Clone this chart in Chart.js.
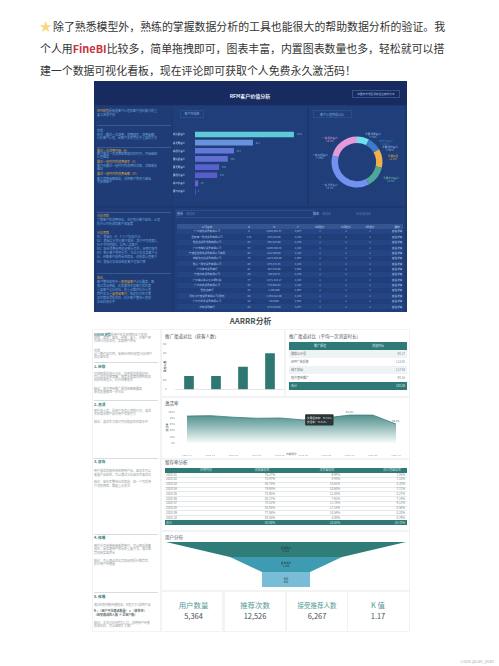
<!DOCTYPE html>
<html lang="zh"><head><meta charset="utf-8">
<script src="https://cdn.jsdelivr.net/npm/chart.js@4"></script>
<style>
html,body{margin:0;padding:0;background:#fff}
#root{position:relative;width:499px;height:666px;overflow:hidden;background:#fff;font-family:"Noto Sans CJK SC","Noto Sans",sans-serif;filter:blur(.5px)}
.b{position:absolute}
.t{position:absolute;white-space:nowrap;line-height:1}
canvas{position:absolute;display:block}
</style></head><body><div id="root"></div>
<script>
const introLine1='除了熟悉模型外，熟练的掌握数据分析的工具也能很大的帮助数据分析的验证。我';
const introLine3='建一个数据可视化看板，现在评论即可获取个人免费永久激活码！';
const rfmCats=['一般挽留客户','一般发展客户','一般保持客户','重要挽留客户','重要发展客户','重要保持客户','一般价值客户','重要价值客户'];
const rfmValues=[1047,612,410,345,253,232,30,1];
const rfmColors=['#5fcbd8','#6693dc','#6478da','#5f70d2','#5a60cc','#5a5cc8','#6a5fd8','#6a5fd8'];
const donutCats=['一般价值客户','重要保持客户','重要价值客户','重要挽留客户','重要发展客户','一般发展客户'];
const donutValues=[7.8,8.9,11.9,13.6,36.9,20.8];
const donutColors=['#6fe0ee','#3c7cc8','#f2b14a','#4fa79a','#7391ee','#e49ad8'];
const channelCats=['微信公众号','APP广告投放','线下活动','地方宣传推广'];
const channelUsers=[1430,1430,2430,3930];
const channelDuration=['98.17','113.85','117.42','98.55'];
const channelTotal='108.30';
const months=['2020-01','2020-02','2020-03','2020-04','2020-05','2020-06','2020-07','2020-08','2020-09','2020-10'];
const activation=[85.7,87,82,78.6,79.6,73.5,80,88.8,88.8,60.2];
const retention1=['76.27%','75.47%','80.75%','79.95%','78.95%','80.17%','78.51%','80.88%','77.86%','80.53%'];
const retention2=['9.94%','8.45%','10.61%','10.68%','12.88%','7.91%','11.73%','17.18%','13.54%','0.00%'];
const retention3=['7.85%','7.13%','8.20%','7.71%','8.27%','7.14%','9.11%','8.56%','8.28%','0.79%'];
const retentionTotal=['88.80%','10.31%','38.78%'];
const funnelWidths=[100,46.7,20];
const funnelLabels=[['活跃用户','3,521'],['留存用户','1,845'],['付费','602']];
const kpiLabels=['用户数量','推荐次数','接受推荐人数','K 值'];
const kpiValues=['5,364','12,526','6,267','1.17'];
const kpiLabelSizes=[7.4,7.4,6.5,7.4];
const rfmCompanies=['广州德鑫贸易有限公司','西安富一服装贸易有限公司','雅信达贸易发展有限公司','广州市陶尚贸易有限公司','宁波金信服装贸易有限公司有限','成都鑫迈达贸易有限公司','雅兴一服装贸易有限公司','广州隆丰贸易商行','宁波华泰贸易有限公司','广州隆兴永兴化工原料站','广州鸿宇贸易有限公司','雅信达商行','闽东江万安贸易有限公司(服装)','广州万顺发贸易有限公司','华泰贸易商行'];
const rfmR=['8','116','83','97','83','76','83','81','85','77','63','53','88','52','86'];
const rfmM=['4,046,991.67','433,318.00','991,257.00','3,806,398.33','814,500.00','1,815,599.00','876,272.33','487,333.00','542,857.0','1,571,319.17','773,664.33','1,298,000','1,569,418.00','833,000','873,510.00'];
const rfmF=['3,077','2,136','2,136','2,136','2,136','2,563','2,136','2,563','2,136','2,136','2,136','2,563','2,136','2,563','3,077'];
const rfmHead=['公司名称','R','M','F','R风险分','M风险分','F风险分','操作'];

const root=document.getElementById('root');
const CN='"Noto Sans CJK SC","Noto Sans",sans-serif';
function B(x,y,w,h,bg,extra){const d=document.createElement('div');d.className='b';d.style.cssText=`left:${x}px;top:${y}px;width:${w}px;height:${h}px;background:${bg};${extra||''}`;root.appendChild(d);return d;}
function T(x,y,s,size,color,o){o=o||{};const d=document.createElement('div');d.className='t';const tr=o.a==='c'?'-50%':o.a==='r'?'-100%':'0';d.style.cssText=`left:${x}px;top:${y}px;font-size:${size}px;color:${color};font-weight:${o.b?700:400};transform:translate(${tr},-50%);${o.e||''}`;if(o.html)d.innerHTML=s;else d.textContent=s;root.appendChild(d);return d;}
function C(x,y,w,h){const c=document.createElement('canvas');c.width=w;c.height=h;c.style.left=x+'px';c.style.top=y+'px';c.style.width=w+'px';c.style.height=h+'px';root.appendChild(c);return c;}
Chart.defaults.animation=false;Chart.defaults.responsive=false;Chart.defaults.font.family=CN;

// intro
T(39.5,26,'★',12.5,'#f4d97f');
T(53,26,introLine1,10.9,'#333');
T(40,48,'个人用<b style="color:#c9323c">FineBI</b>比较多，简单拖拽即可，图表丰富，内置图表数量也多，轻松就可以搭',10.9,'#333',{html:true});
T(40,70,introLine3,10.9,'#333');

// dark dashboard
B(94,81,313,231,'#1d376f');
B(94,81,313,24,'#172b60');
B(96,106,76,100,'#1f3c77');B(173,106,134,100,'#203f7a');B(309,106,96,100,'#203f7a');
B(96,208,76,104,'#1f3c77');B(174,208,231,104,'#203f7a');
T(250,95,'RFM客户价值分析',5,'#e8eef8',{a:'c',b:true});
B(352,90,48,8,'transparent','border:.5px solid #33528a;box-sizing:border-box');
T(376,94,'中国南方地区领航企业案例分享',2.7,'#a8c0e4',{a:'c'});
B(180,110,24,8,'transparent','border:.5px solid #2c4f88;box-sizing:border-box');
T(192,114,'客户构成数',3,'#78aad8',{a:'c'});
B(313,110,39,8,'transparent','border:.5px solid #2c4f88;box-sizing:border-box');
T(332,114.5,'客户价值构成占比',3,'#78aad8',{a:'c'});
const OR='#d8a848',LB='#6da3d8';
const darkLeft=[
[111,'<span style="color:#d8a848">RFM模型</span>是衡量客户价值和客户创利能力的重',LB],[115,'要工具和手段',LB],
[131,'背景',LB],[134.5,'RFM（最近一次消费、消费频率、消费金额）',LB],[138,'分析客户价值，是客户关系管理中重要的方法',LB],
[151,'最近一次消费间隔（R）',OR],[154,'客户最近一次消费距离现在的时间，间隔越短',LB],[157,'价值越高',LB],
[162,'最近一段时间内消费频率（F）',OR],[165.5,'客户在最近一段时间内消费的次数，次数越多',LB],[169,'越好',LB],
[174,'最近一段时间内消费金额（M）',OR],[178.5,'客户消费金额越高，说明客户购买力越强',LB],[182,'可挖掘客户',LB],
[216,'分析目的',OR],[220,'了解客户的消费特征，合理划分客户群体，从而',LB],[223.5,'提升公司利润和客户满意度',LB],
[233,'分析思路',OR],[237,'R1：根据R、M、F 三个指标打分，',LB],[241,'R2：根据得分划分客户群体，高于平均值赋1，',LB],[245,'低于平均值赋0，得到八类客户',LB],[249,'R3：结合消费周期设定统计范围，周期可按月',LB],[253,'R4：统计客户购买行为，对比分析各类客户占',LB],[257,'比，判断客户结构是否健康，识别高价值客户',LB],[262,'R5：根据分析结果制定客户运营方案',LB],
[278,'结论',OR],[282,'客户整体结构中<span style="color:#d8a848">一般挽留客户</span>占比最高，需',LB],[286,'通过活动唤醒，提高复购率和客户活跃度',LB],[290,'重要客户占比较低，应重点维护提升价值',LB],[294,'同时关注<span style="color:#d8a848">重要挽留客户</span>，制定针对性方案',LB],[298,'及时跟进流失风险，提升客户整体价值和',LB],[302,'企业利润水平',LB]];
darkLeft.forEach(l=>T(97,l[0],l[1],3,l[2],{html:true}));
[125,147,212,273].forEach(y=>B(97,y,74,.5,'#3a5a94'));
// dark filter bar
T(177,214,'省份',3,'#b8cce8');T(186,214,'请选择',3,'#5073a8');B(176,210,138,8,'transparent','border:.5px solid #2c4f88;box-sizing:border-box');
T(313,214,'城市',3,'#b8cce8');T(322,214,'请选择',3,'#5073a8');T(356,214,'区域',3,'#5073a8');T(362,214,'请选择',3,'#5073a8');
B(177,224,226,5,'#34558f');
const cols=[207,249,274,298,320,346,370,397];
rfmHead.forEach((h,i)=>T(cols[i],226.7,h,2.6,'#c8d8f0',{a:'c'}));
rfmCompanies.forEach((n,r)=>{const y=231.4+r*5.37;
 if(r%2==0)B(177,y-2.6,226,5.3,'#244583');
 [n,rfmR[r],rfmM[r],rfmF[r],'1','1','1','查看详情'].forEach((v,i)=>T(cols[i],y,v,2.6,'#a8c0e4',{a:'c'}));
});

// AARRR panel
B(92,312,318,320,'#f1f3f4');
B(92,312,318,17,'#fff');
T(250.5,321,'AARRR分析',7.8,'#4a5458',{a:'c',b:true});
B(93,330,67,301,'#fff');
B(162,330,122,66,'#fff');B(286,330,123,66,'#fff');
B(162,398,247,60,'#fff');B(162,460,247,70,'#fff');B(162,532,247,58,'#fff');
[162,225,287,348].forEach(x=>B(x,592,x==348?61:60,39,'#fff'));
T(165,336,'推广渠道对比（获客人数）',4.5,'#4a5458');
T(289,336,'推广渠道对比（平均一次浏览时长）',4.5,'#4a5458');
T(165,402.5,'激活率',4.5,'#4a5458');
T(165,462,'留存率分析',4.5,'#4a5458');
T(165,537,'用户分布',4.5,'#4a5458');
const G='#929b9d',TE='#2f7a76';
const lightLeft=[
[335,'<b style="color:#2f7a76">AARRR 模型</b>是用户生命周期的五个阶段：',G],[338,'获取、激活、留存、传播、收入，对每个环',G],[341,'节进行分析优化，实现用户增长',G],
[351,'背景',G],[354,'以一款产品为例，采用AARRR 模型分析用户',G],[357,'和运营优化',G],
[374,'对获取渠道进行分析，找到渠道质量好坏，',G],[377,'可以优化投放策略，把更多预算投放到效果',G],[380,'较好的渠道上，提升获客效率',G],
[389,'结论：地方宣传推广渠道获客数最高',G],[392,'渠道质量需进一步对比',G],
[411,'用户进入后，是否产生有价值的行为，激活',G],[414,'率较高说明产品对用户有吸引力',G],[422,'结论：激活率大部分月份稳定在较高水平',G],
[471,'用户激活后能否持续使用产品，留存率可以',G],[475,'衡量产品粘性，可以通过分析留存率来优化',G],
[482,'结论：留存率整体比较稳定，但一个月后用',G],[486,'户流失明显，需要重点关注',G],
[546,'用户分享传播带来新增用户，可以降低获客',G],[549,'成本，是实现用户增长的重要方法，通过推',G],[553,'荐机制实现增长',G],
[561,'结论：可以通过优化奖励规则提升推荐率，',G],[564,'提升用户传播量',G],
[605,'通过K值判断传播效果，K值大于1说明产品',G],
[611,'<b style="color:#5a6568">K =（用户平均邀请数量）×（转化率）</b>',G],[615,'<b style="color:#5a6568">（接受邀请的人数 ÷ 总用户数）</b>',G],
[623,'结论：本次分析K值为1.17，说明用户传播',G],[626,'效果较好，可以继续扩大推广',G]];
lightLeft.forEach(l=>T(94,l[0],l[1],3,l[2],{html:true}));
[['1. 获取',367],['2. 激活',404.5],['3. 留存',462],['4. 传播',538],['5. 传播',597]].forEach(h=>T(94,h[1],h[0],3.6,TE,{b:true}));
[362,400,458,534,592].forEach(y=>B(94,y,64,.5,'#d8dcdd'));

// duration table
B(289,342,118,8,TE);T(320,346,'推广渠道',3,'#dfeeee',{a:'c'});T(378,346,'浏览时长',3,'#dfeeee',{a:'c'});
channelCats.forEach((c,i)=>{const y=353.8+i*8.1;if(i%2==0)B(289,y-4,118,8.1,'#eef3f6');T(291,y,c,3,'#5a6568');T(405,y,channelDuration[i],3,'#7f8a8c',{a:'r'});});
B(289,382,118,8,TE);T(291,386,'合计',3,'#dfeeee');T(405,386,channelTotal,3,'#dfeeee',{a:'r'});

// retention table
B(165,467.5,242,5,TE);
['日期月份','次周留存率','次月留存率','次三月留存率'].forEach((h,i)=>T([206,262,327,392][i],470,h,3,'#cfe6e4',{a:'c'}));
months.forEach((m,i)=>{const y=474.7+i*4.78;B(165,y+2.3,242,.4,'#e6e9ea');T(166,y,m,3,'#7f8a8c');
 T(275,y,retention1[i],3,'#7f8a8c',{a:'r'});T(340,y,retention2[i],3,'#7f8a8c',{a:'r'});T(405,y,retention3[i],3,'#7f8a8c',{a:'r'});});
B(165,520,242,5,TE);T(166,522.5,'总计',3,'#cfe6e4');retentionTotal.forEach((v,i)=>T([275,340,405][i],522.5,v,3,'#cfe6e4',{a:'r'}));

// KPI
kpiLabels.forEach((l,i)=>{const cx=[193.5,255,317,378][i];
 T(cx,605.3,l,kpiLabelSizes[i],'#559a96',{a:'c'});T(cx,616,kpiValues[i],7.4,'#3f4d4f',{a:'c'});});
T(494,661,'CSDN @Lan_yuan',4,'#b0b0b0',{a:'r'});

// helper to pin scale sizes
const fixW=w=>s=>{s.width=w};const fixH=h=>s=>{s.height=h};

// RFM bars
new Chart(C(173,127,135,72),{type:'bar',
 data:{labels:rfmCats,datasets:[{data:rfmValues,backgroundColor:rfmColors,barThickness:5}]},
 options:{indexAxis:'y',layout:{padding:0},plugins:{legend:{display:false},tooltip:{enabled:false}},
  scales:{x:{display:true,min:0,max:1200,afterFit:fixH(0),ticks:{display:false},border:{display:false},grid:{color:'rgba(120,160,220,.1)',lineWidth:.5,drawTicks:false}},
   y:{afterFit:fixW(22),border:{display:false},grid:{display:false},ticks:{color:'#c4d4ec',font:{size:2.4},padding:2,autoSkip:false}}}},
 plugins:[{id:'vals',afterDatasetsDraw(c){const x=c.ctx;x.save();x.font='2.5px '+CN;x.fillStyle='#7fa4d4';x.textBaseline='middle';c.getDatasetMeta(0).data.forEach((e,i)=>x.fillText(rfmValues[i],e.x+3,e.y));x.restore();}}]});

// donut
new Chart(C(307,112,100,100),{type:'doughnut',
 data:{labels:donutCats,datasets:[{data:donutValues,backgroundColor:donutColors,borderWidth:0}]},
 options:{radius:25.5,cutout:'75%',plugins:{legend:{display:false},tooltip:{enabled:false}}}});
const donutTexts=[[373,134,'重要发展客户','7.78%','#8fb8e0'],[385,141,'一般价值客户','8.91%','#3f78c8'],[390,147,'重要保持客户','8.91%','#8fb8e0'],[393,156,'重要挽留','11.9%','#e0a440'],[391,178,'重要价值客户','13.6%','#6fb8aa'],[330,185,'一般发展客户','36.9%','#7f98de'],[320,155,'一般挽留客户','7.36%','#8fb8e0'],[330,138,'一般保持客户','20.8%','#d898ce']];
donutTexts.forEach(d=>{T(d[0],d[1],d[2],2.6,d[4],{a:'c'});T(d[0],d[1]+3,d[3],2.6,d[4],{a:'c'});});

// channel bars
new Chart(C(163,340,122,55),{type:'bar',
 data:{labels:channelCats,datasets:[{data:channelUsers,backgroundColor:'#2e7773',barThickness:9}]},
 options:{layout:{padding:{top:3.7,right:1.5}},plugins:{legend:{display:false},tooltip:{enabled:false}},
  scales:{x:{afterFit:fixH(5.7),border:{color:'#e4e7e8',lineWidth:.5},grid:{display:false},ticks:{color:'#3f4d4f',font:{size:2.6},padding:1,autoSkip:false,maxRotation:0}},
   y:{min:0,max:5000,afterFit:fixW(12.5),border:{display:false},grid:{display:false},
    title:{display:true,text:'获客人数',font:{size:2.8},color:'#3f4d4f',padding:0},
    ticks:{stepSize:1000,autoSkip:false,color:'#7f8a8c',font:{size:2.6},padding:1,callback:v=>v.toLocaleString('en-US')}}}}});

// activation area
const areaCanvas=C(165,406,240,50);
const aCtx=areaCanvas.getContext('2d');
const grad=aCtx.createLinearGradient(0,5,0,38);grad.addColorStop(0,'#3d8480');grad.addColorStop(.45,'#8db8b6');grad.addColorStop(1,'#ffffff');
const areaChart=new Chart(areaCanvas,{type:'line',
 data:{labels:months,datasets:[{data:activation,borderColor:'#3a807c',borderWidth:.8,backgroundColor:grad,fill:'origin',pointRadius:0,tension:0}]},
 options:{layout:{padding:{top:4,right:9}},interaction:{mode:'index',intersect:false},
  plugins:{legend:{display:false},tooltip:{enabled:true,displayColors:false,backgroundColor:'#2b3436',titleFont:{size:0},bodyFont:{size:2.6},bodyColor:'#dfe6e6',bodySpacing:1,padding:2,cornerRadius:1,caretSize:0,xAlign:'left',
    callbacks:{title:()=>[],label:()=>['次周留存率：73.51%','激活率：73.51%']}}},
  scales:{x:{afterFit:fixH(13),border:{display:false},grid:{display:false},title:{display:true,text:'日期月份',font:{size:2.6},color:'#5a6568',padding:0},ticks:{color:'#7f8a8c',font:{size:2.6},padding:3,autoSkip:false,maxRotation:0}},
   y:{min:0,max:100,afterFit:fixW(22),border:{display:false},grid:{display:false},title:{display:true,text:'激活率',font:{size:2.8},color:'#3f4d4f',padding:0},ticks:{stepSize:20,autoSkip:false,color:'#7f8a8c',font:{size:2.6},padding:4,callback:v=>v+'%'}}}},
 plugins:[{id:'pts',afterDatasetsDraw(c){const x=c.ctx,m=c.getDatasetMeta(0).data;x.save();x.font='2.6px '+CN;x.fillStyle='#5a6568';x.textAlign='center';[7,9].forEach(i=>x.fillText(activation[i]+'%',m[i].x,m[i].y-2));x.restore();}}]});
areaChart.tooltip.setActiveElements([{datasetIndex:0,index:5}],{x:0,y:0});areaChart.update();

// funnel via filled bands
const [w1,w2,w3]=funnelWidths;
const band=(xs,top,bot,color)=>[
 {data:xs.map((x,i)=>({x,y:top[i]})),showLine:true,pointRadius:0,borderWidth:0,fill:'+1',backgroundColor:color},
 {data:xs.map((x,i)=>({x,y:bot[i]})),showLine:true,pointRadius:0,borderWidth:0,fill:false}];
new Chart(C(166,542,240,45),{type:'scatter',
 data:{datasets:[
  ...band([-w1,-w2,w2,w1],[3,3,3,3],[3,2,2,3],'#2f7c79'),
  ...band([-w2,-w3,w3,w2],[2,2,2,2],[2,1,1,2],'#3e9cb2'),
  ...band([-w3,w3],[1,1],[0,0],'#79bcd6')]},
 options:{plugins:{legend:{display:false},tooltip:{enabled:false}},
  scales:{x:{display:false,min:-w1,max:w1},y:{display:false,min:0,max:3}}}});
funnelLabels.forEach((l,i)=>{const y=[547.5,563,578.5][i];T(286,y,l[0],2.6,'#1f3436',{a:'c'});T(286,y+3,l[1],2.6,'#1f3436',{a:'c'});});
</script></body></html>
